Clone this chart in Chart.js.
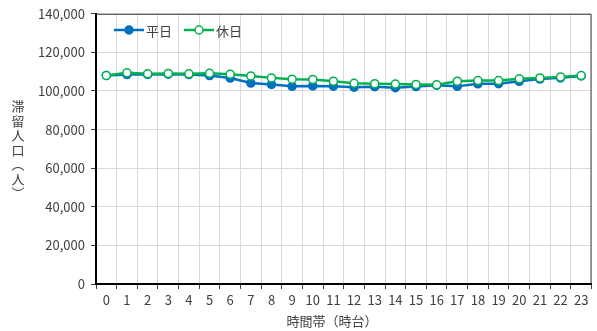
<!DOCTYPE html>
<html lang="ja">
<head>
<meta charset="utf-8">
<script src="https://cdn.jsdelivr.net/npm/chart.js@4/dist/chart.umd.min.js"></script>
<style>
  html, body { margin: 0; padding: 0; background: #ffffff; }
  canvas { display: block; }
</style>
</head>
<body>
<canvas id="chart" width="597" height="331"></canvas>
<script>
// 時間帯 (0〜23時台)
const hours = ['0','1','2','3','4','5','6','7','8','9','10','11','12','13','14','15','16','17','18','19','20','21','22','23'];

// 滞留人口（人）
const weekday = [108000, 108500, 108600, 108700, 108500, 108000, 106700, 104100, 103400, 102400, 102600, 102500,
                 102000, 102200, 101700, 102300, 103000, 102400, 103700, 103800, 105000, 106200, 106800, 107800];
const holiday = [108050, 109400, 108900, 109100, 108900, 109200, 108700, 107800, 106800, 106100, 106000, 105100,
                 104000, 103800, 103600, 103400, 103200, 105100, 105400, 105400, 106300, 106800, 107300, 108000];

const seriesNames = ['平日', '休日'];
const yTitle = ['滞', '留', '人', '口', '︵', '人', '︶'];
const xTitle = '時間帯（時台）';

const FONT = '"Noto Sans CJK JP", "Noto Sans", sans-serif';
const TEXT = '#404040';
const BLUE = '#0070C0';
const GREEN = '#00B050';

// Frame, legend and axis titles drawn on top of the chart area
const decorations = {
  id: 'decorations',
  afterDraw(chart) {
    const { ctx, chartArea: a } = chart;
    ctx.save();
    // outer frame
    ctx.strokeStyle = '#404040';
    ctx.lineWidth = 1;
    ctx.beginPath();
    ctx.moveTo(a.left, a.top + 0.5);
    ctx.lineTo(a.right - 0.5, a.top + 0.5);
    ctx.lineTo(a.right - 0.5, a.bottom);
    ctx.stroke();

    // legend: line + marker + label
    const items = [
      { x: 114, color: BLUE, fill: BLUE, label: seriesNames[0] },
      { x: 184, color: GREEN, fill: '#ffffff', label: seriesNames[1] }
    ];
    const ly = 30;
    items.forEach(it => {
      ctx.strokeStyle = it.color;
      ctx.lineWidth = 2.5;
      ctx.beginPath();
      ctx.moveTo(it.x, ly);
      ctx.lineTo(it.x + 30, ly);
      ctx.stroke();
      ctx.beginPath();
      ctx.arc(it.x + 15, ly, 4, 0, Math.PI * 2);
      ctx.fillStyle = it.fill;
      ctx.fill();
      ctx.lineWidth = 1.5;
      ctx.stroke();
      ctx.fillStyle = TEXT;
      ctx.font = '13px ' + FONT;
      ctx.textAlign = 'left';
      ctx.textBaseline = 'middle';
      ctx.fillText(it.label, it.x + 32, ly + 1);
    });

    // vertical y-axis title, upright characters
    ctx.fillStyle = TEXT;
    ctx.font = '13px ' + FONT;
    ctx.textAlign = 'center';
    ctx.textBaseline = 'middle';
    const step = 14.5;
    const y0 = 150 - (yTitle.length - 1) * step / 2;
    yTitle.forEach((ch, i) => ctx.fillText(ch, 18, y0 + i * step));

    // x-axis title
    ctx.textBaseline = 'middle';
    ctx.fillText(xTitle, 332, 321);
    ctx.restore();
  }
};

new Chart(document.getElementById('chart'), {
  type: 'line',
  data: {
    labels: hours,
    datasets: [
      {
        label: seriesNames[0],
        data: weekday,
        order: 1,
        borderColor: BLUE,
        backgroundColor: BLUE,
        pointBackgroundColor: BLUE,
        pointBorderColor: BLUE,
        borderWidth: 2.5,
        pointRadius: 4,
        pointBorderWidth: 1.5,
        tension: 0
      },
      {
        label: seriesNames[1],
        data: holiday,
        order: 0,
        borderColor: GREEN,
        backgroundColor: '#ffffff',
        pointBackgroundColor: '#ffffff',
        pointBorderColor: GREEN,
        borderWidth: 2.5,
        pointRadius: 4,
        pointBorderWidth: 1.5,
        tension: 0
      }
    ]
  },
  options: {
    responsive: false,
    animation: false,
    layout: { padding: { left: 0, right: 5, top: 11, bottom: 0 } },
    plugins: {
      legend: { display: false },
      tooltip: { enabled: false }
    },
    scales: {
      x: {
        offset: true,
        grid: {
          offset: true,
          color: '#d9d9d9',
          lineWidth: 1,
          drawTicks: true,
          tickLength: 5,
          tickColor: '#404040'
        },
        border: { color: '#000000', width: 2 },
        ticks: {
          color: TEXT,
          font: { family: FONT, size: 13 },
          maxRotation: 0,
          autoSkip: false,
          padding: 3
        },
        afterFit(scale) { scale.height = 47; }
      },
      y: {
        min: 0,
        max: 140000,
        grid: {
          color: '#d9d9d9',
          lineWidth: 1,
          drawTicks: true,
          tickLength: 5,
          tickColor: '#404040'
        },
        border: { color: '#000000', width: 2 },
        ticks: {
          stepSize: 20000,
          color: TEXT,
          font: { family: FONT, size: 13 },
          padding: 6,
          callback: v => v.toLocaleString('en-US')
        },
        afterFit(scale) { scale.width = 96; }
      }
    }
  },
  plugins: [decorations]
});
</script>
</body>
</html>
